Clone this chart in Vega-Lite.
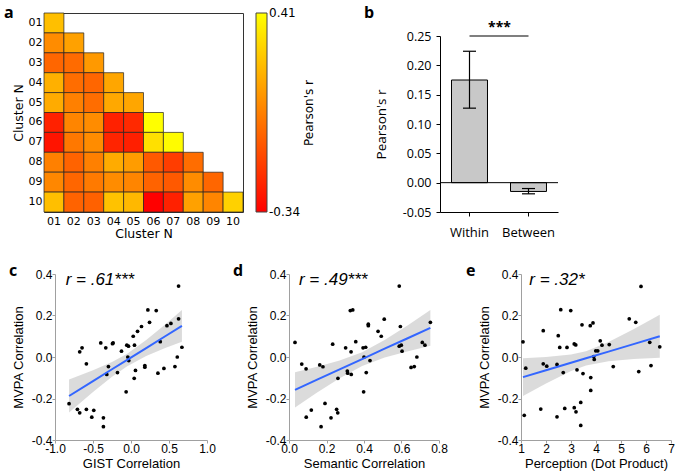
{
  "$schema": "https://vega.github.io/schema/vega-lite/v6.json",
  "padding": {"left": 3, "right": 3, "top": 4, "bottom": 3},
  "config": {
    "view": {"stroke": null},
    "axis": {"grid": false},
    "locale": {"number": {"decimal": ".", "thousands": ",", "grouping": [3], "currency": ["$", ""], "minus": "-"}}
  },
  "resolve": {"scale": {"color": "independent"}, "legend": {"color": "independent"}},
  "datasets": {
    "heat": [
      {"row": "01", "col": "01", "r": 0.223},
      {"row": "02", "col": "01", "r": 0.073}, {"row": "02", "col": "02", "r": 0.133},
      {"row": "03", "col": "01", "r": -0.04}, {"row": "03", "col": "02", "r": -0.025}, {"row": "03", "col": "03", "r": 0.11},
      {"row": "04", "col": "01", "r": 0.178}, {"row": "04", "col": "02", "r": -0.018}, {"row": "04", "col": "03", "r": -0.04}, {"row": "04", "col": "04", "r": 0.148},
      {"row": "05", "col": "01", "r": 0.163}, {"row": "05", "col": "02", "r": 0.035}, {"row": "05", "col": "03", "r": -0.018}, {"row": "05", "col": "04", "r": 0.155}, {"row": "05", "col": "05", "r": 0.148},
      {"row": "06", "col": "01", "r": -0.243}, {"row": "06", "col": "02", "r": 0.05}, {"row": "06", "col": "03", "r": 0.073}, {"row": "06", "col": "04", "r": -0.243}, {"row": "06", "col": "05", "r": -0.22}, {"row": "06", "col": "06", "r": 0.41},
      {"row": "07", "col": "01", "r": -0.28}, {"row": "07", "col": "02", "r": 0.013}, {"row": "07", "col": "03", "r": 0.073}, {"row": "07", "col": "04", "r": -0.235}, {"row": "07", "col": "05", "r": -0.25}, {"row": "07", "col": "06", "r": 0.32}, {"row": "07", "col": "07", "r": 0.40},
      {"row": "08", "col": "01", "r": 0.035}, {"row": "08", "col": "02", "r": -0.048}, {"row": "08", "col": "03", "r": 0.035}, {"row": "08", "col": "04", "r": 0.163}, {"row": "08", "col": "05", "r": 0.118}, {"row": "08", "col": "06", "r": -0.078}, {"row": "08", "col": "07", "r": -0.16}, {"row": "08", "col": "08", "r": -0.018},
      {"row": "09", "col": "01", "r": 0.058}, {"row": "09", "col": "02", "r": -0.04}, {"row": "09", "col": "03", "r": 0.02}, {"row": "09", "col": "04", "r": 0.073}, {"row": "09", "col": "05", "r": 0.05}, {"row": "09", "col": "06", "r": -0.048}, {"row": "09", "col": "07", "r": -0.078}, {"row": "09", "col": "08", "r": 0.073}, {"row": "09", "col": "09", "r": -0.04},
      {"row": "10", "col": "01", "r": 0.223}, {"row": "10", "col": "02", "r": -0.048}, {"row": "10", "col": "03", "r": -0.055}, {"row": "10", "col": "04", "r": 0.23}, {"row": "10", "col": "05", "r": 0.2}, {"row": "10", "col": "06", "r": -0.34}, {"row": "10", "col": "07", "r": -0.243}, {"row": "10", "col": "08", "r": 0.133}, {"row": "10", "col": "09", "r": 0.05}, {"row": "10", "col": "10", "r": 0.275}
    ],
    "bars": [
      {"group": "Within", "mean": 0.175, "lo": 0.127, "hi": 0.224},
      {"group": "Between", "mean": -0.015, "lo": -0.019, "hi": -0.010}
    ],
    "sig": [{"from": "Within", "to": "Between", "y": 0.25, "ty": 0.256, "label": "***"}],
    "c_pts": [
      {"x": -0.815, "y": -0.225}, {"x": -0.705, "y": -0.252}, {"x": -0.675, "y": -0.269}, {"x": -0.675, "y": 0.025}, {"x": -0.644, "y": 0.044},
      {"x": -0.587, "y": -0.033}, {"x": -0.587, "y": -0.252}, {"x": -0.516, "y": -0.29}, {"x": -0.49, "y": -0.257}, {"x": -0.398, "y": 0.068},
      {"x": -0.363, "y": -0.293}, {"x": -0.363, "y": -0.336}, {"x": -0.332, "y": 0.044}, {"x": -0.319, "y": -0.084}, {"x": -0.297, "y": -0.046},
      {"x": -0.244, "y": 0.064}, {"x": -0.235, "y": 0.068}, {"x": -0.178, "y": -0.075}, {"x": -0.125, "y": 0.028}, {"x": -0.064, "y": -0.168},
      {"x": -0.055, "y": 0.057}, {"x": -0.033, "y": 0.052}, {"x": -0.042, "y": 0.0}, {"x": -0.029, "y": -0.017}, {"x": 0.029, "y": 0.1},
      {"x": 0.046, "y": 0.057}, {"x": 0.042, "y": -0.103}, {"x": 0.059, "y": -0.065}, {"x": 0.086, "y": 0.124}, {"x": 0.138, "y": 0.147},
      {"x": 0.182, "y": -0.041}, {"x": 0.182, "y": -0.049}, {"x": 0.222, "y": 0.227}, {"x": 0.244, "y": 0.167}, {"x": 0.332, "y": 0.224},
      {"x": 0.354, "y": -0.078}, {"x": 0.385, "y": 0.074}, {"x": 0.433, "y": -0.055}, {"x": 0.473, "y": 0.151}, {"x": 0.525, "y": 0.162},
      {"x": 0.578, "y": -0.046}, {"x": 0.609, "y": 0.0}, {"x": 0.626, "y": 0.342}, {"x": 0.626, "y": 0.184}, {"x": 0.67, "y": 0.047}
    ],
    "c_fit": [
      {"x": -0.815, "fit": -0.188, "lo": -0.268, "hi": -0.108},
      {"x": -0.5, "fit": -0.116, "lo": -0.169, "hi": -0.064},
      {"x": -0.25, "fit": -0.059, "lo": -0.095, "hi": -0.024},
      {"x": -0.05, "fit": -0.014, "lo": -0.044, "hi": 0.016},
      {"x": 0.2, "fit": 0.043, "lo": 0.005, "hi": 0.082},
      {"x": 0.45, "fit": 0.1, "lo": 0.043, "hi": 0.157},
      {"x": 0.67, "fit": 0.15, "lo": 0.074, "hi": 0.226}
    ],
    "d_pts": [
      {"x": 0.032, "y": 0.07}, {"x": 0.068, "y": -0.034}, {"x": 0.091, "y": -0.057}, {"x": 0.092, "y": -0.29}, {"x": 0.119, "y": -0.256},
      {"x": 0.164, "y": -0.038}, {"x": 0.171, "y": -0.336}, {"x": 0.181, "y": -0.047}, {"x": 0.192, "y": -0.224}, {"x": 0.224, "y": -0.293},
      {"x": 0.233, "y": 0.062}, {"x": 0.254, "y": -0.252}, {"x": 0.26, "y": -0.269}, {"x": 0.261, "y": -0.103}, {"x": 0.302, "y": 0.044},
      {"x": 0.311, "y": -0.068}, {"x": 0.313, "y": -0.078}, {"x": 0.327, "y": 0.224}, {"x": 0.34, "y": 0.227}, {"x": 0.331, "y": 0.025},
      {"x": 0.332, "y": -0.084}, {"x": 0.356, "y": 0.074}, {"x": 0.395, "y": 0.044}, {"x": 0.4, "y": 0.0}, {"x": 0.398, "y": -0.168},
      {"x": 0.409, "y": 0.047}, {"x": 0.412, "y": -0.075}, {"x": 0.423, "y": 0.158}, {"x": 0.423, "y": 0.151}, {"x": 0.432, "y": -0.017},
      {"x": 0.475, "y": 0.124}, {"x": 0.492, "y": 0.1}, {"x": 0.508, "y": 0.182}, {"x": 0.588, "y": 0.342}, {"x": 0.594, "y": 0.147},
      {"x": 0.588, "y": 0.052}, {"x": 0.599, "y": 0.057}, {"x": 0.603, "y": 0.028}, {"x": 0.651, "y": -0.05}, {"x": 0.668, "y": -0.046},
      {"x": 0.682, "y": 0.0}, {"x": 0.711, "y": 0.07}, {"x": 0.725, "y": 0.057}, {"x": 0.754, "y": 0.167}
    ],
    "d_fit": [
      {"x": 0.032, "fit": -0.158, "lo": -0.243, "hi": -0.073},
      {"x": 0.15, "fit": -0.109, "lo": -0.171, "hi": -0.047},
      {"x": 0.27, "fit": -0.06, "lo": -0.102, "hi": -0.017},
      {"x": 0.39, "fit": -0.01, "lo": -0.043, "hi": 0.023},
      {"x": 0.51, "fit": 0.04, "lo": -0.003, "hi": 0.082},
      {"x": 0.63, "fit": 0.089, "lo": 0.027, "hi": 0.151},
      {"x": 0.754, "fit": 0.14, "lo": 0.054, "hi": 0.226}
    ],
    "e_pts": [
      {"x": 1.08, "y": 0.073}, {"x": 1.13, "y": -0.281}, {"x": 1.19, "y": -0.054}, {"x": 1.79, "y": -0.251}, {"x": 1.89, "y": 0.127},
      {"x": 1.89, "y": -0.033}, {"x": 2.03, "y": -0.044}, {"x": 2.44, "y": -0.288}, {"x": 2.44, "y": -0.036}, {"x": 2.49, "y": 0.103},
      {"x": 2.55, "y": 0.046}, {"x": 2.59, "y": 0.228}, {"x": 2.69, "y": -0.075}, {"x": 2.75, "y": -0.248}, {"x": 2.84, "y": 0.046},
      {"x": 2.99, "y": 0.224}, {"x": 3.13, "y": 0.063}, {"x": 3.19, "y": 0.058}, {"x": 3.13, "y": -0.244}, {"x": 3.2, "y": -0.264},
      {"x": 3.24, "y": -0.062}, {"x": 3.39, "y": -0.219}, {"x": 3.39, "y": -0.33}, {"x": 3.44, "y": 0.155}, {"x": 3.48, "y": -0.08},
      {"x": 3.77, "y": 0.151}, {"x": 3.79, "y": -0.099}, {"x": 3.79, "y": -0.161}, {"x": 3.88, "y": 0.164}, {"x": 3.91, "y": 0.002},
      {"x": 3.93, "y": -0.012}, {"x": 3.99, "y": 0.03}, {"x": 4.07, "y": 0.03}, {"x": 4.17, "y": 0.078}, {"x": 4.24, "y": 0.057},
      {"x": 4.53, "y": 0.06}, {"x": 4.69, "y": -0.046}, {"x": 5.33, "y": 0.184}, {"x": 5.59, "y": 0.167}, {"x": 5.71, "y": -0.07},
      {"x": 5.8, "y": 0.34}, {"x": 6.15, "y": 0.071}, {"x": 6.2, "y": -0.041}, {"x": 6.55, "y": 0.049}
    ],
    "e_fit": [
      {"x": 1.08, "fit": -0.097, "lo": -0.188, "hi": -0.006},
      {"x": 2, "fit": -0.064, "lo": -0.128, "hi": 0.0},
      {"x": 3, "fit": -0.028, "lo": -0.068, "hi": 0.012},
      {"x": 3.6, "fit": -0.006, "lo": -0.041, "hi": 0.028},
      {"x": 4.5, "fit": 0.026, "lo": -0.02, "hi": 0.072},
      {"x": 5.5, "fit": 0.062, "lo": -0.01, "hi": 0.134},
      {"x": 6.55, "fit": 0.1, "lo": -0.004, "hi": 0.204}
    ],
    "c_lab": [{"label": "r = .61***"}],
    "d_lab": [{"label": "r = .49***"}],
    "e_lab": [{"label": "r = .32*"}]
  },
  "spacing": 23,
  "vconcat": [
    {
      "bounds": "flush",
      "spacing": 197,
      "resolve": {"scale": {"color": "independent"}, "legend": {"color": "independent"}},
      "hconcat": [
        {
          "width": 199, "height": 199,
          "title": {"text": "a", "anchor": "start", "frame": "group", "offset": -21, "dx": -40, "baseline": "alphabetic", "font": "Open Sans", "fontSize": 16, "fontWeight": "bold", "color": "#000"},
          "view": {"stroke": "#333", "strokeWidth": 1},
          "data": {"name": "heat"},
          "mark": {"type": "rect", "stroke": "#222", "strokeWidth": 0.7},
          "encoding": {
            "x": {"field": "col", "type": "ordinal", "scale": {"domain": ["01","02","03","04","05","06","07","08","09","10"], "paddingInner": 0, "paddingOuter": 0},
                  "axis": {"title": "Cluster N", "labelAngle": 0, "ticks": false, "domain": false, "labelPadding": 3, "labelFont": "DejaVu Sans", "labelFontSize": 11, "labelColor": "#000", "titleFont": "DejaVu Sans", "titleFontSize": 12.5, "titleFontWeight": "normal", "titleColor": "#000", "titlePadding": 1}},
            "y": {"field": "row", "type": "ordinal", "scale": {"domain": ["01","02","03","04","05","06","07","08","09","10"], "paddingInner": 0, "paddingOuter": 0},
                  "axis": {"title": "Cluster N", "ticks": false, "domain": false, "labelPadding": 2, "labelFont": "DejaVu Sans", "labelFontSize": 11, "labelColor": "#000", "titleFont": "DejaVu Sans", "titleFontSize": 12.5, "titleFontWeight": "normal", "titleColor": "#000", "titlePadding": 3}},
            "color": {"field": "r", "type": "quantitative",
                      "scale": {"domain": [-0.34, 0.41], "range": ["#ff0000", "#ffff00"], "interpolate": "rgb"},
                      "legend": {"title": "Pearson's r", "values": [-0.34, 0.41], "format": ".2f", "direction": "vertical", "orient": "right", "offset": 13, "padding": 0,
                                 "gradientLength": 199, "gradientThickness": 11, "gradientStrokeColor": "#444", "gradientStrokeWidth": 1,
                                 "labelFont": "DejaVu Sans", "labelFontSize": 12, "labelOffset": 2, "labelColor": "#000", "labelOverlap": false,
                                 "titleOrient": "right", "titleAnchor": "middle", "titleBaseline": "top", "titleFont": "DejaVu Sans", "titleFontSize": 12, "titleFontWeight": "normal", "titleColor": "#000", "titlePadding": 4,
                                 "encode": {"labels": {"update": {"baseline": {"value": "middle"}}}, "title": {"update": {"angle": {"value": 270}}}}}}
          }
        },
        {
          "width": 118, "height": 199,
          "title": {"text": "b", "anchor": "start", "frame": "group", "offset": -21, "dx": -76, "baseline": "alphabetic", "font": "Open Sans", "fontSize": 16, "fontWeight": "bold", "color": "#000"},
          "layer": [
            {
              "data": {"name": "bars"},
              "mark": {"type": "bar", "fill": "#c8c8c8", "stroke": "#000", "strokeWidth": 1},
              "encoding": {
                "x": {"field": "group", "type": "nominal", "scale": {"domain": ["Within", "Between"], "paddingInner": 0.39, "paddingOuter": 0.195},
                      "axis": {"title": null, "labelAngle": 0, "domainColor": "#000", "tickColor": "#000", "tickSize": 4, "labelPadding": 10, "labelFont": "Open Sans", "labelFontSize": 13, "labelColor": "#000"}},
                "y": {"field": "mean", "type": "quantitative", "scale": {"domain": [-0.05, 0.25], "range": [199, 23], "nice": false, "zero": false},
                      "axis": {"title": "Pearson's r", "values": [-0.05, 0, 0.05, 0.1, 0.15, 0.2, 0.25], "tickCount": 20, "format": ".2f", "labelOverlap": false, "domainColor": "#000", "tickColor": "#000", "tickSize": 4, "labelPadding": 5, "labelFont": "Open Sans", "labelFontSize": 12.5, "labelColor": "#000", "titleFont": "Open Sans", "titleFontSize": 13.5, "titleFontWeight": "normal", "titleColor": "#000", "titlePadding": 14}}
              }
            },
            {
              "data": {"name": "bars"},
              "mark": {"type": "rule", "color": "#000", "strokeWidth": 1.2},
              "encoding": {
                "x": {"field": "group", "type": "nominal"},
                "y": {"field": "lo", "type": "quantitative"},
                "y2": {"field": "hi"}
              }
            },
            {
              "data": {"name": "bars"},
              "mark": {"type": "tick", "orient": "horizontal", "size": 13, "thickness": 1.2, "color": "#000", "opacity": 1},
              "encoding": {
                "x": {"field": "group", "type": "nominal"},
                "y": {"field": "hi", "type": "quantitative"}
              }
            },
            {
              "data": {"name": "bars"},
              "mark": {"type": "tick", "orient": "horizontal", "size": 13, "thickness": 1.2, "color": "#000", "opacity": 1},
              "encoding": {
                "x": {"field": "group", "type": "nominal"},
                "y": {"field": "lo", "type": "quantitative"}
              }
            },
            {
              "data": {"name": "sig"},
              "mark": {"type": "rule", "color": "#000", "strokeWidth": 1.2},
              "encoding": {
                "x": {"field": "from", "type": "nominal"},
                "x2": {"field": "to"},
                "y": {"field": "y", "type": "quantitative"}
              }
            },
            {
              "data": {"name": "sig"},
              "mark": {"type": "text", "dx": 30, "font": "Open Sans", "fontSize": 14, "fontWeight": "bold", "baseline": "alphabetic", "color": "#000"},
              "encoding": {
                "x": {"field": "from", "type": "nominal"},
                "y": {"field": "ty", "type": "quantitative"},
                "text": {"field": "label"}
              }
            },
            {
              "data": {"name": "sig"},
              "mark": {"type": "rule", "color": "#000", "strokeWidth": 1},
              "encoding": {"y": {"datum": 0, "type": "quantitative"}}
            }
          ]
        }
      ]
    },
    {
      "bounds": "flush",
      "spacing": 0,
      "hconcat": [
        {"width": 11, "height": 166, "data": {"values": []}, "mark": "point"},
        {
          "bounds": "flush",
          "spacing": 82,
          "hconcat": [
            {
              "width": 152, "height": 166,
              "title": {"text": "c", "anchor": "start", "frame": "group", "offset": -24, "dx": -46, "baseline": "alphabetic", "font": "Open Sans", "fontSize": 16, "fontWeight": "bold", "color": "#000"},
              "layer": [
                {
                  "data": {"name": "c_fit"},
                  "mark": {"type": "area", "color": "#999999", "opacity": 0.35},
                  "encoding": {
                    "x": {"field": "x", "type": "quantitative", "title": "GIST Correlation", "scale": {"domain": [-1, 1], "nice": false},
                          "axis": {"values": [-1, -0.5, 0, 0.5, 1], "tickCount": 20, "format": ".1f", "domainColor": "#a0a0a0", "tickColor": "#a0a0a0", "tickSize": 3, "labelPadding": 0, "labelFlush": false, "labelOverlap": false, "labelFont": "Liberation Sans", "labelFontSize": 12, "labelColor": "#000", "titleFont": "Liberation Sans", "titleFontSize": 13, "titleFontWeight": "normal", "titleColor": "#000", "titlePadding": 3}},
                    "y": {"field": "lo", "type": "quantitative", "title": "MVPA Correlation", "scale": {"domain": [-0.4, 0.4], "nice": false},
                          "axis": {"values": [-0.4, -0.2, 0, 0.2, 0.4], "tickCount": 20, "format": ".1f", "domainColor": "#a0a0a0", "tickColor": "#a0a0a0", "tickSize": 3, "labelPadding": 0, "labelFlush": false, "labelOverlap": false, "labelFont": "Liberation Sans", "labelFontSize": 12, "labelColor": "#000", "titleFont": "Liberation Sans", "titleFontSize": 13, "titleFontWeight": "normal", "titleColor": "#000", "titlePadding": 6}},
                    "y2": {"field": "hi"}
                  }
                },
                {
                  "data": {"name": "c_pts"},
                  "mark": {"type": "circle", "color": "#000", "size": 14, "opacity": 1},
                  "encoding": {
                    "x": {"field": "x", "type": "quantitative", "title": "GIST Correlation"},
                    "y": {"field": "y", "type": "quantitative", "title": "MVPA Correlation"}
                  }
                },
                {
                  "data": {"name": "c_fit"},
                  "mark": {"type": "line", "color": "#3366ff", "strokeWidth": 2},
                  "encoding": {
                    "x": {"field": "x", "type": "quantitative", "title": "GIST Correlation"},
                    "y": {"field": "fit", "type": "quantitative", "title": "MVPA Correlation"}
                  }
                },
                {
                  "data": {"name": "c_lab"},
                  "mark": {"type": "text", "align": "left", "baseline": "alphabetic", "font": "Liberation Sans", "fontSize": 17, "fontStyle": "italic", "color": "#000"},
                  "encoding": {
                    "x": {"datum": -0.86, "type": "quantitative"},
                    "y": {"datum": 0.345, "type": "quantitative"},
                    "text": {"field": "label"}
                  }
                }
              ]
            },
            {
              "width": 150, "height": 166,
              "title": {"text": "d", "anchor": "start", "frame": "group", "offset": -24, "dx": -56, "baseline": "alphabetic", "font": "Open Sans", "fontSize": 16, "fontWeight": "bold", "color": "#000"},
              "layer": [
                {
                  "data": {"name": "d_fit"},
                  "mark": {"type": "area", "color": "#999999", "opacity": 0.35},
                  "encoding": {
                    "x": {"field": "x", "type": "quantitative", "title": "Semantic Correlation", "scale": {"domain": [0, 0.8], "nice": false},
                          "axis": {"values": [0, 0.2, 0.4, 0.6, 0.8], "tickCount": 20, "format": ".1f", "domainColor": "#a0a0a0", "tickColor": "#a0a0a0", "tickSize": 3, "labelPadding": 0, "labelFlush": false, "labelOverlap": false, "labelFont": "Liberation Sans", "labelFontSize": 12, "labelColor": "#000", "titleFont": "Liberation Sans", "titleFontSize": 13, "titleFontWeight": "normal", "titleColor": "#000", "titlePadding": 3}},
                    "y": {"field": "lo", "type": "quantitative", "title": "MVPA Correlation", "scale": {"domain": [-0.4, 0.4], "nice": false},
                          "axis": {"values": [-0.4, -0.2, 0, 0.2, 0.4], "tickCount": 20, "format": ".1f", "domainColor": "#a0a0a0", "tickColor": "#a0a0a0", "tickSize": 3, "labelPadding": 0, "labelFlush": false, "labelOverlap": false, "labelFont": "Liberation Sans", "labelFontSize": 12, "labelColor": "#000", "titleFont": "Liberation Sans", "titleFontSize": 13, "titleFontWeight": "normal", "titleColor": "#000", "titlePadding": 6}},
                    "y2": {"field": "hi"}
                  }
                },
                {
                  "data": {"name": "d_pts"},
                  "mark": {"type": "circle", "color": "#000", "size": 14, "opacity": 1},
                  "encoding": {
                    "x": {"field": "x", "type": "quantitative", "title": "Semantic Correlation"},
                    "y": {"field": "y", "type": "quantitative", "title": "MVPA Correlation"}
                  }
                },
                {
                  "data": {"name": "d_fit"},
                  "mark": {"type": "line", "color": "#3366ff", "strokeWidth": 2},
                  "encoding": {
                    "x": {"field": "x", "type": "quantitative", "title": "Semantic Correlation"},
                    "y": {"field": "fit", "type": "quantitative", "title": "MVPA Correlation"}
                  }
                },
                {
                  "data": {"name": "d_lab"},
                  "mark": {"type": "text", "align": "left", "baseline": "alphabetic", "font": "Liberation Sans", "fontSize": 17, "fontStyle": "italic", "color": "#000"},
                  "encoding": {
                    "x": {"datum": 0.053, "type": "quantitative"},
                    "y": {"datum": 0.345, "type": "quantitative"},
                    "text": {"field": "label"}
                  }
                }
              ]
            },
            {
              "width": 150, "height": 166,
              "title": {"text": "e", "anchor": "start", "frame": "group", "offset": -24, "dx": -55, "baseline": "alphabetic", "font": "Open Sans", "fontSize": 16, "fontWeight": "bold", "color": "#000"},
              "layer": [
                {
                  "data": {"name": "e_fit"},
                  "mark": {"type": "area", "color": "#999999", "opacity": 0.35},
                  "encoding": {
                    "x": {"field": "x", "type": "quantitative", "title": "Perception (Dot Product)", "scale": {"domain": [1, 7], "nice": false, "zero": false},
                          "axis": {"values": [1, 2, 3, 4, 5, 6, 7], "tickCount": 20, "format": "d", "domainColor": "#a0a0a0", "tickColor": "#a0a0a0", "tickSize": 3, "labelPadding": 0, "labelFlush": false, "labelOverlap": false, "labelFont": "Liberation Sans", "labelFontSize": 12, "labelColor": "#000", "titleFont": "Liberation Sans", "titleFontSize": 13, "titleFontWeight": "normal", "titleColor": "#000", "titlePadding": 3}},
                    "y": {"field": "lo", "type": "quantitative", "title": "MVPA Correlation", "scale": {"domain": [-0.4, 0.4], "nice": false},
                          "axis": {"values": [-0.4, -0.2, 0, 0.2, 0.4], "tickCount": 20, "format": ".1f", "domainColor": "#a0a0a0", "tickColor": "#a0a0a0", "tickSize": 3, "labelPadding": 0, "labelFlush": false, "labelOverlap": false, "labelFont": "Liberation Sans", "labelFontSize": 12, "labelColor": "#000", "titleFont": "Liberation Sans", "titleFontSize": 13, "titleFontWeight": "normal", "titleColor": "#000", "titlePadding": 6}},
                    "y2": {"field": "hi"}
                  }
                },
                {
                  "data": {"name": "e_pts"},
                  "mark": {"type": "circle", "color": "#000", "size": 14, "opacity": 1},
                  "encoding": {
                    "x": {"field": "x", "type": "quantitative", "title": "Perception (Dot Product)"},
                    "y": {"field": "y", "type": "quantitative", "title": "MVPA Correlation"}
                  }
                },
                {
                  "data": {"name": "e_fit"},
                  "mark": {"type": "line", "color": "#3366ff", "strokeWidth": 2},
                  "encoding": {
                    "x": {"field": "x", "type": "quantitative", "title": "Perception (Dot Product)"},
                    "y": {"field": "fit", "type": "quantitative", "title": "MVPA Correlation"}
                  }
                },
                {
                  "data": {"name": "e_lab"},
                  "mark": {"type": "text", "align": "left", "baseline": "alphabetic", "font": "Liberation Sans", "fontSize": 17, "fontStyle": "italic", "color": "#000"},
                  "encoding": {
                    "x": {"datum": 1.33, "type": "quantitative"},
                    "y": {"datum": 0.345, "type": "quantitative"},
                    "text": {"field": "label"}
                  }
                }
              ]
            }
          ]
        }
      ]
    }
  ]
}
